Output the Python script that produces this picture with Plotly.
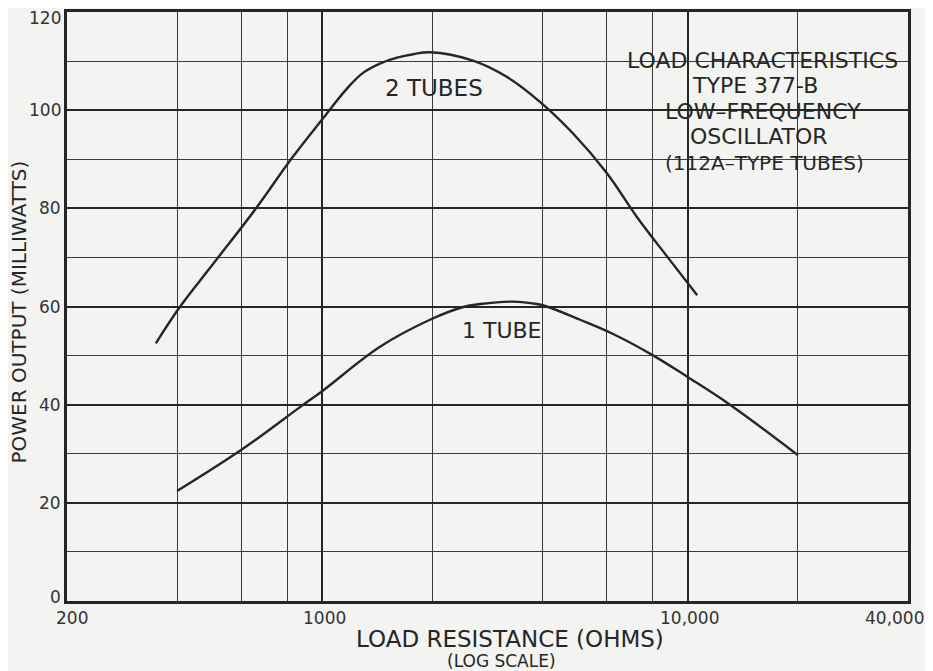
import plotly.graph_objects as go
import math

# ---- data ----
tubes2_ohms = [350, 408, 500, 658, 824, 1000, 1167, 1291, 1436, 1600, 1771, 1968,
               2581, 3192, 3936, 4842, 5995, 7241, 8872, 10600]
tubes2_mw   = [52.5, 60, 68.5, 80, 90.2, 98.2, 104.4, 107.6, 109.5, 110.7, 111.4, 111.8,
               110.1, 106.8, 101.7, 95.3, 87.2, 78.3, 69.7, 62.3]

tube1_ohms = [400, 600, 868, 1000, 1437, 1968, 2428, 2698, 3321, 3860, 4110, 5070, 6240, 8000,
              10000, 13030, 20000]
tube1_mw   = [22.4, 30.8, 39.5, 42.8, 51.8, 57.3, 59.9, 60.5, 61.0, 60.5, 60.0, 57.3, 54.4, 50.1,
              45.6, 40, 29.7]

x_tick_vals = [200, 1000, 10000, 40000]
x_tick_text = ["200", "1000", "10,000", "40,000"]
x_minor_grid = [400, 600, 800, 2000, 4000, 6000, 8000, 20000]
y_tick_vals = [0, 20, 40, 60, 80, 100, 120]

title_lines = ["LOAD CHARACTERISTICS", "TYPE 377-B", "LOW–FREQUENCY", "OSCILLATOR", "(112A–TYPE TUBES)"]

BG = "#f3f3f1"
INK = "#262626"
FONT = "DejaVu Sans"

fig = go.Figure()
fig.add_trace(go.Scatter(x=tubes2_ohms, y=tubes2_mw, mode="lines",
                         line=dict(color=INK, width=2.4, shape="spline", smoothing=1.1),
                         showlegend=False, hoverinfo="skip"))
fig.add_trace(go.Scatter(x=tube1_ohms, y=tube1_mw, mode="lines",
                         line=dict(color=INK, width=2.4, shape="spline", smoothing=1.1),
                         showlegend=False, hoverinfo="skip"))

# page body has an 8px margin: figure is sized so the plot area lands where the reference has it
fig.update_layout(
    width=925, height=663,
    margin=dict(l=59, r=25, t=4, b=70, autoexpand=False),
    paper_bgcolor=BG, plot_bgcolor=BG,
    font=dict(family=FONT, color=INK),
    xaxis=dict(type="log", range=[math.log10(200), math.log10(40000)], automargin=False,
               tickvals=x_tick_vals, ticktext=x_tick_text, showticklabels=False,
               showgrid=True, gridcolor=INK, gridwidth=2.2,
               minor=dict(tickvals=x_minor_grid, showgrid=True, gridcolor="#3a3a3a", gridwidth=1.1, ticks=""),
               showline=True, linecolor=INK, linewidth=2.5, mirror=True, zeroline=False, ticks=""),
    yaxis=dict(range=[0, 120], tickvals=y_tick_vals, automargin=False, showticklabels=False,
               showgrid=True, gridcolor=INK, gridwidth=2.2,
               minor=dict(dtick=10, showgrid=True, gridcolor="#3a3a3a", gridwidth=1.1, ticks=""),
               showline=True, linecolor=INK, linewidth=2.5, mirror=True, zeroline=False, ticks=""),
)

# erased patch behind the title block
fig.add_shape(type="rect", xref="x", yref="y", layer="between",
              x0=math.log10(6950), x1=math.log10(37000), y0=86.4, y1=115.7,
              fillcolor=BG, line=dict(width=0))

# y tick labels
y_shifts = [4, 0, 0, 0, 0, 0, -6]
for v, s in zip(y_tick_vals, y_shifts):
    fig.add_annotation(x=0, y=v, xref="paper", yref="y", text=str(v), showarrow=False,
                       xanchor="right", yanchor="middle", xshift=-5, yshift=s, borderpad=0,
                       font=dict(size=17, family=FONT, color="#333"))

# x tick labels
shifts = [5, 2, 2, -14]
for v, t, s in zip(x_tick_vals, x_tick_text, shifts):
    fig.add_annotation(x=math.log10(v), y=0, xref="x", yref="y", text=t, showarrow=False,
                       yanchor="middle", yshift=-17, xshift=s,
                       font=dict(size=17, family=FONT, color="#333"))

# axis titles
fig.add_annotation(x=0.5, y=0, xref="paper", yref="paper", xanchor="center", yanchor="middle",
                   text="LOAD RESISTANCE (OHMS)", showarrow=False, xshift=22, yshift=-38,
                   font=dict(size=23, family=FONT, color=INK))
fig.add_annotation(x=0.5, y=0, xref="paper", yref="paper", xanchor="center", yanchor="middle",
                   text="(LOG SCALE)", showarrow=False, xshift=14, yshift=-60,
                   font=dict(size=17, family=FONT, color=INK))
fig.add_annotation(x=0, y=0.5, xref="paper", yref="paper", xanchor="center", yanchor="middle",
                   text="POWER OUTPUT (MILLIWATTS)", showarrow=False, textangle=-90,
                   xshift=-49, yshift=-6,
                   font=dict(size=20, family=FONT, color=INK))

# curve labels
fig.add_annotation(x=3.305, y=104.5, xref="x", yref="y", text="2 TUBES",
                   showarrow=False, font=dict(size=23, family=FONT, color=INK))
fig.add_annotation(x=3.491, y=55.2, xref="x", yref="y", text="1 TUBE",
                   showarrow=False, font=dict(size=22, family=FONT, color=INK))

# title block
title_y = [110.2, 105.1, 99.7, 94.7, 89.2]
title_dx = [0, -8, 0, -4, 2]
title_sizes = [22, 22, 22, 22, 20]
for t, yy, dx, sz in zip(title_lines, title_y, title_dx, title_sizes):
    fig.add_annotation(x=4.205, y=yy, xref="x", yref="y", text=t, showarrow=False, xshift=dx,
                       font=dict(size=sz, family=FONT, color=INK))

fig.write_html("out.html")
